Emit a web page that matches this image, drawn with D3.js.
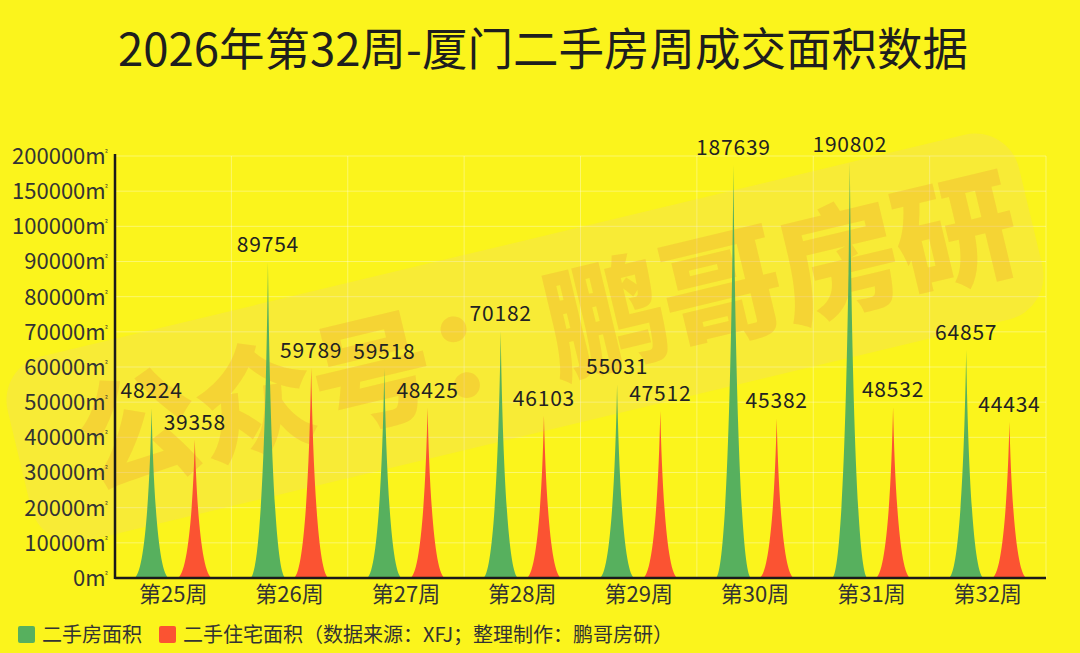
<!DOCTYPE html>
<html><head><meta charset="utf-8">
<script src="https://cdn.jsdelivr.net/npm/d3@7/dist/d3.min.js"></script>
<style>
html,body{margin:0;padding:0;background:#fbf41c;}
svg{display:block;font-family:"Noto Sans CJK SC","Noto Sans",sans-serif;}
</style></head>
<body>
<svg id="chart" width="1080" height="653"></svg>
<script>
const title = "2026年第32周-厦门二手房周成交面积数据";
const categories = ["第25周","第26周","第27周","第28周","第29周","第30周","第31周","第32周"];
const seriesNames = ["二手房面积","二手住宅面积（数据来源：XFJ；整理制作：鹏哥房研）"];
const secondHandArea = [48224,89754,59518,70182,55031,187639,190802,64857];
const residentialArea = [39358,59789,48425,46103,47512,45382,48532,44434];
const yTicks = [0,10000,20000,30000,40000,50000,60000,70000,80000,90000,100000,150000,200000];
const watermark = "公众号：鹏哥房研";

const colors = ["#57b05e","#fb5332"];
const svg = d3.select("#chart");
const W = 1080, H = 653;
const pLeft = 115, pRight = 1046, pTop = 156, pBottom = 578;

svg.append("rect").attr("width",W).attr("height",H).attr("fill","#fbf41c");

// y scale: piecewise linear, equal spacing for ticks
const step = (pBottom - pTop) / (yTicks.length - 1);
const y = d3.scaleLinear()
  .domain([0,100000,200000])
  .range([pBottom, pBottom - 10*step, pBottom - 12*step]);

const x0 = d3.scaleBand().domain(categories).range([pLeft,pRight]).padding(0);
const x1 = d3.scaleBand().domain([0,1]).range([0,x0.bandwidth()]).paddingInner(0.169).paddingOuter(0.43);

// grid
const grid = svg.append("g").attr("stroke","rgba(255,255,255,0.35)").attr("stroke-width",1);
grid.selectAll("line.h").data(yTicks.slice(1)).join("line")
  .attr("x1",pLeft).attr("x2",pRight).attr("y1",d=>y(d)).attr("y2",d=>y(d));
grid.selectAll("line.v").data(categories).join("line")
  .attr("x1",d=>x0(d)+x0.bandwidth()).attr("x2",d=>x0(d)+x0.bandwidth())
  .attr("y1",pTop).attr("y2",pBottom);

// watermark
const wm = svg.append("g").attr("transform","translate(525,338) rotate(-13.5)");
wm.append("rect").attr("x",-520).attr("y",-95).attr("width",1040).attr("height",190).attr("rx",45)
  .attr("fill","rgba(236,205,150,0.22)");
wm.append("text").attr("x",22).attr("text-anchor","middle").attr("dy","0.36em")
  .attr("font-size",122).attr("font-weight",900).attr("letter-spacing",-2)
  .attr("fill","rgba(238,160,50,0.30)").text(watermark);

// title
svg.append("text").attr("x",543).attr("y",66).attr("text-anchor","middle")
  .attr("font-size",45.5).attr("font-weight",400).attr("fill","#1e1e1e").text(title);

// y axis labels
const yl = svg.append("g").attr("font-size",22).attr("fill","#333").attr("text-anchor","end");
yTicks.forEach(v=>{
  const t = yl.append("text").attr("x",108).attr("y",y(v)).attr("dy","0.36em");
  t.append("tspan").text(v+"m");
  t.append("tspan").attr("font-size",8).attr("dy","-1em").attr("dx","-1").text("²");
});

// spike shape (concave, flared at the base)
function spike(cx,w,t,b){
  const h = b - t, hw = w/2;
  return `M${cx-hw},${b} C${cx-hw*0.4},${b} ${cx-hw*0.1},${b-h*0.5} ${cx},${t} ` +
         `C${cx+hw*0.1},${b-h*0.5} ${cx+hw*0.4},${b} ${cx+hw},${b} Z`;
}

const data = categories.map((c,i)=>({c, vals:[secondHandArea[i], residentialArea[i]]}));
const bars = svg.append("g");
data.forEach(d=>{
  d.vals.forEach((v,s)=>{
    const cx = x0(d.c) + x1(s) + x1.bandwidth()/2;
    bars.append("path").attr("d", spike(cx, x1.bandwidth(), y(v), y(0))).attr("fill", colors[s]);
    bars.append("text").attr("x",cx).attr("y",y(v)-10).attr("text-anchor","middle")
      .attr("font-size",21).attr("letter-spacing",0.8).attr("fill","#222").text(v);
  });
});

// axes lines
svg.append("line").attr("x1",pLeft).attr("x2",pLeft).attr("y1",pTop-2).attr("y2",pBottom+1)
  .attr("stroke","#1a1a1a").attr("stroke-width",2.5);
svg.append("line").attr("x1",pLeft).attr("x2",pRight).attr("y1",pBottom).attr("y2",pBottom)
  .attr("stroke","#1a1a1a").attr("stroke-width",2.5);

// x labels
svg.append("g").selectAll("text").data(categories).join("text")
  .attr("x",d=>x0(d)+x0.bandwidth()/2).attr("y",602).attr("text-anchor","middle")
  .attr("font-size",22).attr("fill","#333").text(d=>d);

// legend
const lg = svg.append("g");
const legendX = [18,159];
seriesNames.forEach((n,i)=>{
  lg.append("rect").attr("x",legendX[i]).attr("y",626).attr("width",17).attr("height",17).attr("rx",2).attr("fill",colors[i]);
  lg.append("text").attr("x",legendX[i]+24).attr("y",635).attr("dy","0.36em")
    .attr("font-size",20).attr("fill","#333").text(n);
});
</script>
</body></html>
